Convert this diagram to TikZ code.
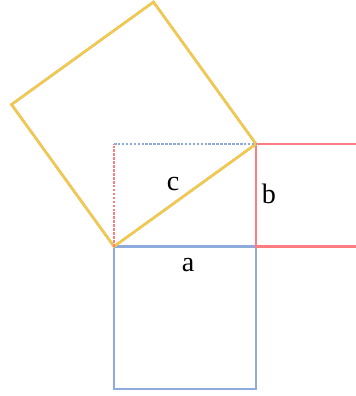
\documentclass[tikz,border=0pt]{standalone}
\usepackage{fontspec}
\setmainfont{Liberation Serif}
\usepackage{tikz}
\usetikzlibrary{positioning}

\definecolor{sidea}{HTML}{8FAADC}
\definecolor{sideb}{HTML}{FF7C80}
\definecolor{sidec}{HTML}{F2C94C}

\begin{document}
\begin{tikzpicture}[
        x=0.025cm, y=-0.025cm,
        edge/.style={line width=1.8pt, line join=miter},
        shadow/.style={line width=1.8pt, draw=black!25, xshift=0.8pt, yshift=-0.8pt},
        label/.style={font=\fontsize{20}{24}\selectfont, inner sep=0pt},
    ]
        \useasboundingbox (0,0) rectangle (356,396);
        \clip (0,0) rectangle (356,396);

        % Corners
        \coordinate (A) at (114,246.5);
        \coordinate (B) at (256,246.5);
        \coordinate (C) at (256,144);
        \coordinate (D) at (153.5,2);
        \coordinate (E) at (11.5,104.5);
        \coordinate (F) at (114,144);
        \coordinate (G) at (358.5,144);
        \coordinate (H) at (358.5,246.5);
        \coordinate (I) at (256,389);
        \coordinate (J) at (114,389);

        % Shadows
        \draw[shadow] (A) -- (B) -- (I) -- (J) -- cycle;
        \draw[shadow] (C) -- (G) (H) -- (B) -- (C);
        \draw[shadow] (A) -- (C) -- (D) -- (E) -- cycle;

        % Squares
        \draw[edge, sidea] (A) -- (B) -- (I) -- (J) -- cycle;
        \draw[edge, sideb] (C) -- (G) -- (H) -- (B) -- cycle;
        \draw[edge, sidec] (A) -- (C) -- (D) -- (E) -- cycle;

        % Dotted sides
        \draw[sidea, line width=1.8pt, densely dotted] (F) -- (C);
        \draw[sideb, line width=1.8pt, densely dotted] (A) -- (F);

        % Labels
        \node[label] (c) at (173,184) {c};
        \node[label] (b) at (269,194) {b};
        \node[label] (a) at (188,265) {a};
    \end{tikzpicture}
\end{document}
